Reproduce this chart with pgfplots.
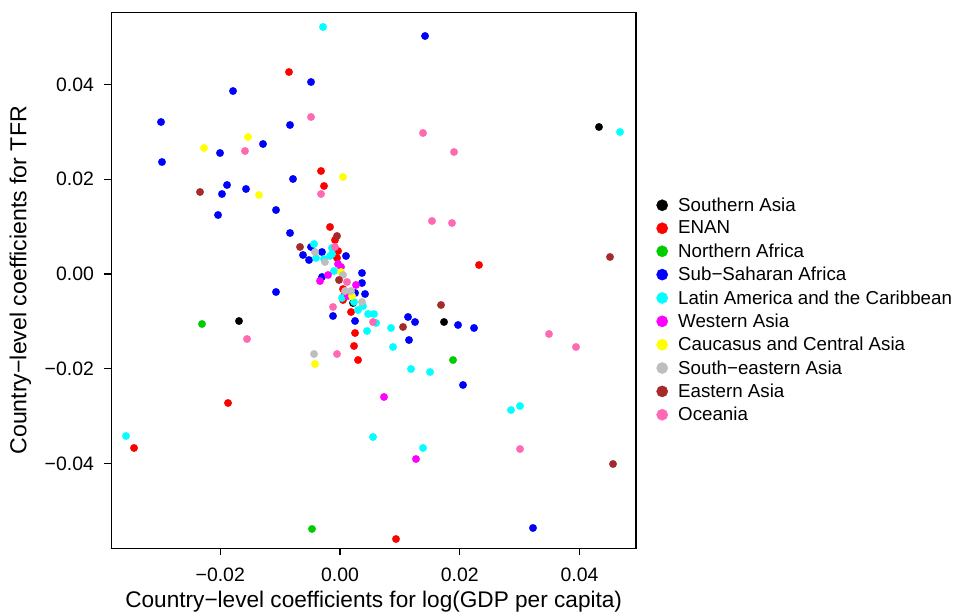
\documentclass[border=0pt]{standalone}
\usepackage{fontspec}
\setmainfont{Liberation Sans}
\usepackage{pgfplots}
\pgfplotsset{compat=1.18}
\definecolor{cSA}{RGB}{0,0,0}
\definecolor{cEN}{RGB}{255,0,0}
\definecolor{cNA}{RGB}{0,205,0}
\definecolor{cSS}{RGB}{0,0,255}
\definecolor{cLA}{RGB}{0,255,255}
\definecolor{cWA}{RGB}{255,0,255}
\definecolor{cCC}{RGB}{255,255,0}
\definecolor{cSE}{RGB}{190,190,190}
\definecolor{cEA}{RGB}{165,42,42}
\definecolor{cOC}{RGB}{255,105,180}
\definecolor{refl}{RGB}{211,211,211}
\begin{document}
\begin{tikzpicture}
\begin{axis}[
  scale only axis,
  width=524.6bp, height=536bp,
  xmin=-0.03818, xmax=0.04943,
  ymin=-0.05788, ymax=0.05522,
  scaled ticks=false,
  axis line style={line width=1.2bp},
  every tick/.style={black, line width=1.2bp},
  tick align=outside,
  major tick length=7bp,
  xtick pos=bottom, ytick pos=left,
  xtick={-0.02,0,0.02,0.04},
  xticklabels={−0.02,0.00,0.02,0.04},
  ytick={-0.04,-0.02,0,0.02,0.04},
  yticklabels={−0.04,−0.02,0.00,0.02,0.04},
  ticklabel style={font=\fontsize{19.5}{22}\selectfont},
  xticklabel style={yshift=-9bp},
  yticklabel style={xshift=-7bp},
  xlabel={Country−level coefficients for log(GDP per capita)},
  ylabel={Country−level coefficients for TFR},
  xlabel style={font=\fontsize{22.7}{25}\selectfont, at={(axis description cs:0.5,-0.0989)}, anchor=center},
  ylabel style={font=\fontsize{23.2}{26}\selectfont, at={(axis description cs:-0.1735,0.5)}, anchor=center},
  clip=true,
  legend style={draw=none, fill=none, at={(axis description cs:1,0.4446)}, anchor=west, xshift=20bp,
    font=\fontsize{18.8}{21}\selectfont, row sep=4.3bp, inner sep=0pt},
  legend cell align=left,
  legend image code/.code={\draw[#1, mark size=5.6bp] plot coordinates {(0bp,0bp)}; \path[draw=none,fill=none] (-6bp,-1bp) rectangle (14bp,1bp);},
  every axis plot/.append style={only marks, mark=*, mark size=3.7bp},
]
\addplot[forget plot, no marks, draw=refl, line width=1.3bp, dash pattern=on 6bp off 5bp] coordinates {(0,-0.06) (0,0.06)};
\addplot[forget plot, no marks, draw=refl, line width=1.3bp, dash pattern=on 6bp off 5bp] coordinates {(-0.04,0) (0.05,0)};
% Southern Asia
\addplot[color=cSA] coordinates {(0.04325,0.03102) (-0.01687,-0.00992) (0.01737,-0.01013) (0.00217,-0.00612)};
\addlegendentry{Southern Asia}
% ENAN
\addplot[color=cEN] coordinates {(-0.00852,0.04262) (-0.00317,0.02173) (-0.00267,0.01857) (-0.00167,0.00992) (-0.00084,0.00717) (-0.00033,0.00485) (-0.0005,0.00338) (0.0005,-0.00317) (0.00067,-0.00464) (0.0005,-0.00549) (0.00184,-0.00802) (0.00251,-0.01245) (0.00234,-0.01519) (0.00301,-0.01815) (-0.0187,-0.02722) (-0.0344,-0.03671) (0.00935,-0.05592) (0.02321,0.0019)};
\addlegendentry{ENAN}
% Northern Africa
\addplot[color=cNA] coordinates {(-0.02305,-0.01055) (-0.00468,-0.0538) (0.01887,-0.01815)};
\addlegendentry{Northern Africa}
% Sub-Saharan Africa
\addplot[color=cSS] coordinates {(0.0142,0.05022) (-0.00484,0.04051) (-0.01787,0.03861) (-0.02989,0.03207) (-0.00835,0.03144) (-0.01286,0.02743) (-0.02004,0.02553) (-0.02973,0.02363) (-0.00785,0.02005) (-0.01887,0.01878) (-0.01971,0.01688) (-0.0157,0.01794) (-0.01069,0.0135) (-0.02037,0.01245) (-0.00835,0.00865) (-0.00618,0.00401) (-0.00518,0.00295) (-0.00484,0.0057) (-0.00301,0.00464) (0.001,0.0038) (0.00367,0.00021) (0.00367,-0.0019) (0.00418,-0.00422) (0.00251,-0.00401) (-0.01069,-0.0038) (-0.00117,-0.00886) (0.00251,-0.00992) (0.01136,-0.00907) (0.01253,-0.01013) (0.01152,-0.01393) (0.01971,-0.01076) (0.02238,-0.01139) (0.02054,-0.02342) (0.03223,-0.05359) (-0.00301,-0.00063)};
\addlegendentry{Sub−Saharan Africa}
% Latin America and the Caribbean
\addplot[color=cLA] coordinates {(-0.00284,0.05212) (0.04676,0.02996) (-0.03574,-0.03418) (-0.00434,0.00633) (-0.00134,0.00549) (-0.00134,0.00422) (-0.00401,0.00338) (-0.00267,0.00317) (-0.00167,0.0038) (-0.001,0.00063) (0.00033,-0.00506) (0.00234,-0.00591) (0.00301,-0.0076) (0.00384,-0.00675) (0.00468,-0.00844) (0.00568,-0.00844) (0.00601,-0.01034) (0.00451,-0.01203) (0.00852,-0.01139) (0.00885,-0.0154) (0.01186,-0.02005) (0.01503,-0.02068) (0.02856,-0.0287) (0.03006,-0.02785) (0.00551,-0.03439) (0.01386,-0.03671)};
\addlegendentry{Latin America and the Caribbean}
% Western Asia
\addplot[color=cWA] coordinates {(-0.00033,0.00211) (0.00017,0.00148) (-0.002,-0.00021) (-0.00334,-0.00148) (0.00267,-0.00232) (0.00134,-0.00464) (0.00735,-0.02595) (0.01269,-0.03904)};
\addlegendentry{Western Asia}
% Caucasus and Central Asia
\addplot[color=cCC] coordinates {(-0.01536,0.02891) (-0.02271,0.02659) (0.0005,0.02047) (-0.01353,0.01667) (0.00017,0.00042) (0.002,-0.00464) (-0.00418,-0.01899)};
\addlegendentry{Caucasus and Central Asia}
% South-eastern Asia
\addplot[color=cSE] coordinates {(-0.00418,0.00464) (-0.00251,0.00253) (0.0005,-0.00021) (0.00084,-0.00359) (0.00184,-0.00359) (0.00367,-0.00591) (-0.00434,-0.01688)};
\addlegendentry{South−eastern Asia}
% Eastern Asia
\addplot[color=cEA] coordinates {(-0.02338,0.0173) (-0.00668,0.0057) (-0.0005,0.00802) (-0.00017,-0.00127) (0.01687,-0.00654) (0.01052,-0.01118) (0.04509,0.00359) (0.04559,-0.04009)};
\addlegendentry{Eastern Asia}
% Oceania
\addplot[color=cOC] coordinates {(-0.00484,0.03313) (-0.01587,0.02595) (-0.00317,0.01688) (-0.00084,0.0057) (0.00117,-0.00169) (-0.00117,-0.00696) (-0.01553,-0.01372) (-0.0005,-0.01688) (0.00551,-0.01013) (0.01386,0.02975) (0.01904,0.02574) (0.01536,0.01118) (0.0187,0.01076) (0.0349,-0.01266) (0.03941,-0.0154) (0.03006,-0.03693)};
\addlegendentry{Oceania}
\end{axis}
\pgfresetboundingbox
\useasboundingbox (current axis.south west) ++(-111.4bp,-67.7bp) rectangle ++(959bp,616bp);
\end{tikzpicture}
\end{document}
